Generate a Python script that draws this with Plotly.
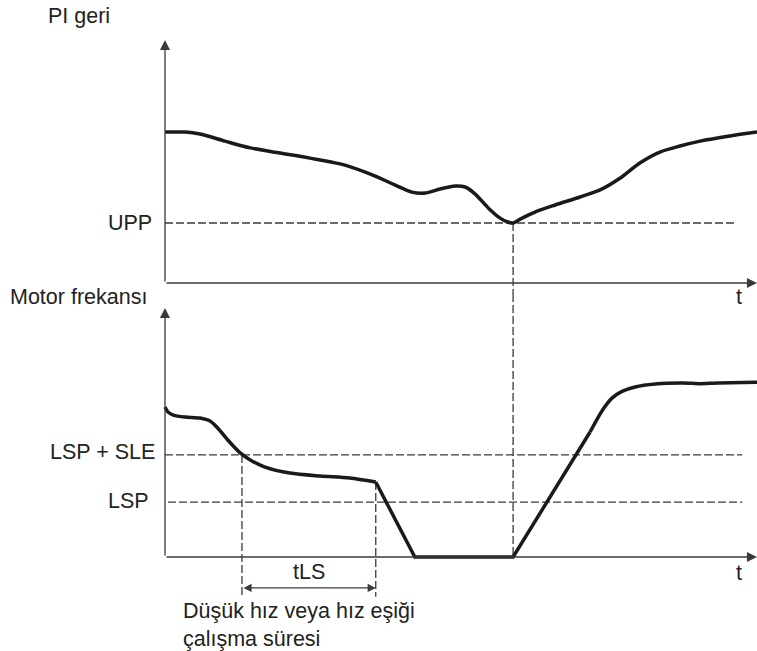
import plotly.graph_objects as go

# time runs 0 (vertical axis) -> 100 (right edge); levels are 0..100 per panel
pi_t = [0, 3.4, 5.9, 10.1, 14.4, 19.4, 24.5, 29.6, 34.6, 38.9, 41.7, 43.9, 46.5, 49.0, 50.7, 52.4,
        54.6, 56.6, 57.9, 58.8, 60.0, 62.5, 65.9, 70.1, 73.5, 76.9, 80.2, 83.6, 87.0, 90.4, 95.4, 100]
pi_val = [62.1, 62.1, 61.3, 58.4, 55.6, 53.5, 51.4, 49.0, 44.9, 40.3, 37.4, 37.0, 38.7, 39.9, 39.5, 36.6,
          30.9, 26.7, 25.1, 24.7, 26.3, 29.2, 32.1, 35.4, 38.3, 43.2, 49.4, 53.9, 56.4, 58.4, 60.5, 62.1]

# motor frequency: smooth decay, ramp down / zero / ramp up, smooth settle
fr_dec_t = [0, 0.5, 1.4, 3.4, 5.9, 7.6, 8.9, 10.6, 12.7, 14.4, 16.9, 21.1, 26.2, 31.2, 35.6]
fr_dec_v = [60.2, 58.2, 57.0, 56.2, 55.8, 54.6, 51.8, 47.0, 41.8, 39.0, 36.1, 33.7, 32.5, 31.7, 30.1]
fr_ramp_t = [35.6, 42.2, 58.8, 71.8]
fr_ramp_v = [30.1, 0, 0, 50.2]
fr_set_t = [71.8, 73.0, 74.2, 75.5, 77.2, 79.4, 82.8, 87.5, 90.4, 93.2, 100]
fr_set_v = [50.2, 55.4, 60.0, 63.8, 66.5, 68.3, 69.5, 69.9, 69.6, 69.9, 70.2]

UPP = 24.7
LSP_SLE = 41
LSP = 22
T_UPP = 58.8        # instant where PI feedback reaches UPP
T_LS0, T_LS1 = 13.0, 35.6   # tLS window
UPP_END, LSP_END = 96.6, 97.5

W, H = 757, 651
INK = "#1a1a1a"
DASH = "#3a3a3a"
AXC = "#3a3a3a"
FONT = dict(family="Liberation Sans, Arial, sans-serif", size=21.5, color="#222222")
dash_line = dict(color=DASH, width=1.3, dash="8px,3px")

fig = go.Figure()

# top panel
fig.add_trace(go.Scatter(x=[0, UPP_END], y=[UPP, UPP], mode="lines", line=dash_line, xaxis="x", yaxis="y"))
fig.add_trace(go.Scatter(x=[T_UPP, T_UPP], y=[UPP, -10], mode="lines", line=dash_line, xaxis="x", yaxis="y"))
fig.add_trace(go.Scatter(x=pi_t, y=pi_val, mode="lines", line=dict(color=INK, width=3.5, shape="spline", smoothing=0.8),
                         xaxis="x", yaxis="y"))

# bottom panel
fig.add_trace(go.Scatter(x=[0, LSP_END], y=[LSP_SLE, LSP_SLE], mode="lines", line=dash_line, xaxis="x2", yaxis="y2"))
fig.add_trace(go.Scatter(x=[0.5, LSP_END], y=[LSP, LSP], mode="lines", line=dash_line, xaxis="x2", yaxis="y2"))
fig.add_trace(go.Scatter(x=[T_UPP, T_UPP], y=[110, 0], mode="lines", line=dash_line, xaxis="x2", yaxis="y2"))
fig.add_trace(go.Scatter(x=[T_LS0, T_LS0], y=[LSP_SLE, -16], mode="lines", line=dash_line, xaxis="x2", yaxis="y2"))
fig.add_trace(go.Scatter(x=[T_LS1, T_LS1], y=[fr_dec_v[-1], -16], mode="lines", line=dash_line, xaxis="x2", yaxis="y2"))
fig.add_trace(go.Scatter(x=fr_dec_t, y=fr_dec_v, mode="lines", line=dict(color=INK, width=3.5, shape="spline", smoothing=0.8),
                         xaxis="x2", yaxis="y2"))
fig.add_trace(go.Scatter(x=fr_ramp_t, y=fr_ramp_v, mode="lines", line=dict(color=INK, width=3.5),
                         xaxis="x2", yaxis="y2"))
fig.add_trace(go.Scatter(x=fr_set_t, y=fr_set_v, mode="lines", line=dict(color=INK, width=3.5, shape="spline", smoothing=0.8),
                         xaxis="x2", yaxis="y2"))


def arrow(x, y, ax, ay, xr, yr, **kw):
    d = dict(x=x, y=y, ax=ax, ay=ay, xref=xr, yref=yr, axref=xr, ayref=yr, text="",
             showarrow=True, arrowhead=2, arrowsize=1.55, arrowwidth=1.3, arrowcolor=AXC)
    d.update(kw)
    return d


def label(text, x, y, xr="paper", yr="paper", xanchor="left", yanchor="middle", **kw):
    d = dict(text=text, x=x, y=y, xref=xr, yref=yr, xanchor=xanchor, yanchor=yanchor,
             showarrow=False, font=FONT)
    d.update(kw)
    return d


annotations = [
    # axes with arrow heads
    arrow(0, 100, 0, 0, "x", "y"),
    arrow(100, 0, 0, 0, "x", "y"),
    arrow(0, 100, 0, 0, "x2", "y2"),
    arrow(100, 0, 0, 0, "x2", "y2"),
    # tLS span
    arrow(T_LS1, -12.4, T_LS0, -12.4, "x2", "y2", arrowside="end+start", startarrowhead=2,
          arrowsize=1.35, startarrowsize=1.35, arrowwidth=1.2),
    label("PI geri", 46 / W, 1 - 16 / H),
    label("Motor frekansı", 8 / W, 1 - 297 / H),
    label("UPP", 154 / W, UPP, yr="y", xanchor="right"),
    label("LSP + SLE", 157 / W, LSP_SLE + 1, yr="y2", xanchor="right"),
    label("LSP", 151 / W, LSP + 0.5, yr="y2", xanchor="right"),
    label("t", 97.0, 0.2, xr="x", yr="y", xanchor="center", yanchor="top"),
    label("t", 97.0, -1.0, xr="x2", yr="y2", xanchor="center", yanchor="top"),
    label("tLS", (T_LS0 + T_LS1) / 2, -11.8, xr="x2", yr="y2", xanchor="center", yanchor="bottom"),
    label("Düşük hız veya hız eşiği<br>çalışma süresi", 181 / W, -16.0, yr="y2",
          xanchor="left", yanchor="top", align="left"),
]

hidden = dict(visible=False, showgrid=False, zeroline=False, fixedrange=True)
x_dom = [140 / W, 1]
x_rng = [-25 / 5.92, 100]

fig.update_layout(
    width=W, height=H,
    margin=dict(l=0, r=0, t=0, b=0),
    paper_bgcolor="white", plot_bgcolor="white",
    showlegend=False,
    font=FONT,
    xaxis=dict(domain=x_dom, range=x_rng, **hidden),
    yaxis=dict(domain=[1 - 296 / H, 1 - 30 / H], range=[(283 - 296) / 2.43, (283 - 30) / 2.43], **hidden),
    xaxis2=dict(domain=x_dom, range=x_rng, anchor="y2", **hidden),
    yaxis2=dict(domain=[0, 1 - 296 / H], range=[(557 - 651) / 2.49, (557 - 296) / 2.49], anchor="x2", **hidden),
    annotations=annotations,
)

# drop the default page margin so the figure sits at the window's top-left corner
fig.write_html("out.html", config={"displayModeBar": False},
               post_script="document.body.style.margin='0px';document.body.style.overflow='hidden';")
